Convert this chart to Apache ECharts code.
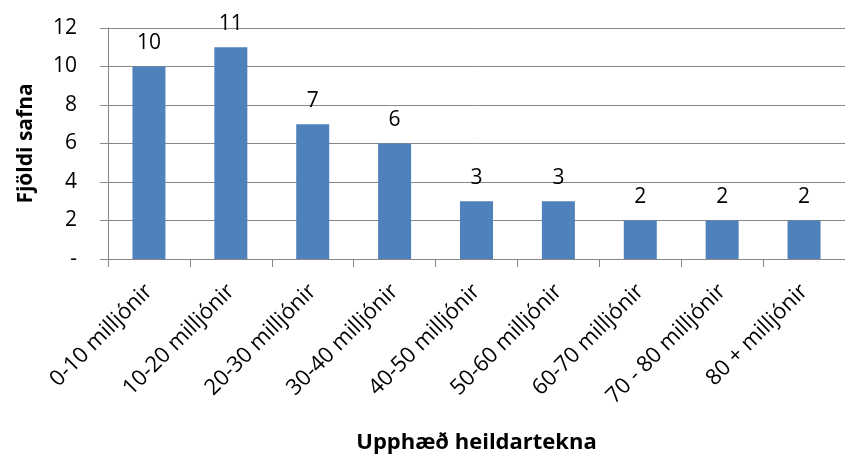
<!DOCTYPE html>
<html><head><meta charset="utf-8">
<script src="https://cdn.jsdelivr.net/npm/echarts@6/dist/echarts.min.js"></script>
<style>html,body{margin:0;padding:0;background:#fff}#c{width:845px;height:459px}</style>
</head><body><div id="c"></div>
<script>
var categories = ['0-10 milljónir','10-20 milljónir','20-30 milljónir','30-40 milljónir','40-50 milljónir','50-60 milljónir','60-70 milljónir','70 - 80 milljónir','80 + milljónir'];
var values = [10, 11, 7, 6, 3, 3, 2, 2, 2];
var yTitle = 'Fjöldi safna';
var xTitle = 'Upphæð heildartekna';
var font = 'Open Sans';
var chart = echarts.init(document.getElementById('c'));
chart.setOption({
  animation: false,
  grid: {left: 108, top: 28, width: 746, height: 231},
  xAxis: {
    type: 'category', data: categories,
    axisLine: {lineStyle: {color: '#878787', width: 1}},
    axisTick: {show: true, length: 8, alignWithLabel: false, lineStyle: {color: '#878787'}},
    axisLabel: {rotate: 45, margin: 29, color: '#000', fontSize: 22, fontFamily: font, interval: 0},
    name: xTitle, nameLocation: 'middle', nameGap: 173,
    nameTextStyle: {fontSize: 22, fontWeight: 'bold', color: '#000', fontFamily: font}
  },
  yAxis: {
    type: 'value', min: 0, max: 12, interval: 2,
    axisLine: {show: true, lineStyle: {color: '#878787', width: 1}},
    axisTick: {show: true, length: 8, lineStyle: {color: '#878787'}},
    splitLine: {lineStyle: {color: '#878787', width: 1}},
    axisLabel: {margin: 31, color: '#000', fontSize: 21, fontFamily: font,
      formatter: function (v) { return v === 0 ? '-' : String(v); }},
    name: yTitle, nameLocation: 'middle', nameGap: 71, nameRotate: 90,
    nameTextStyle: {fontSize: 21, fontWeight: 'bold', color: '#000', fontFamily: font}
  },
  series: [{
    type: 'bar', data: values, barWidth: 33,
    itemStyle: {color: '#4F81BD'},
    label: {show: true, position: 'top', distance: 13, color: '#000', fontSize: 21, fontFamily: font}
  }]
});
</script></body></html>
